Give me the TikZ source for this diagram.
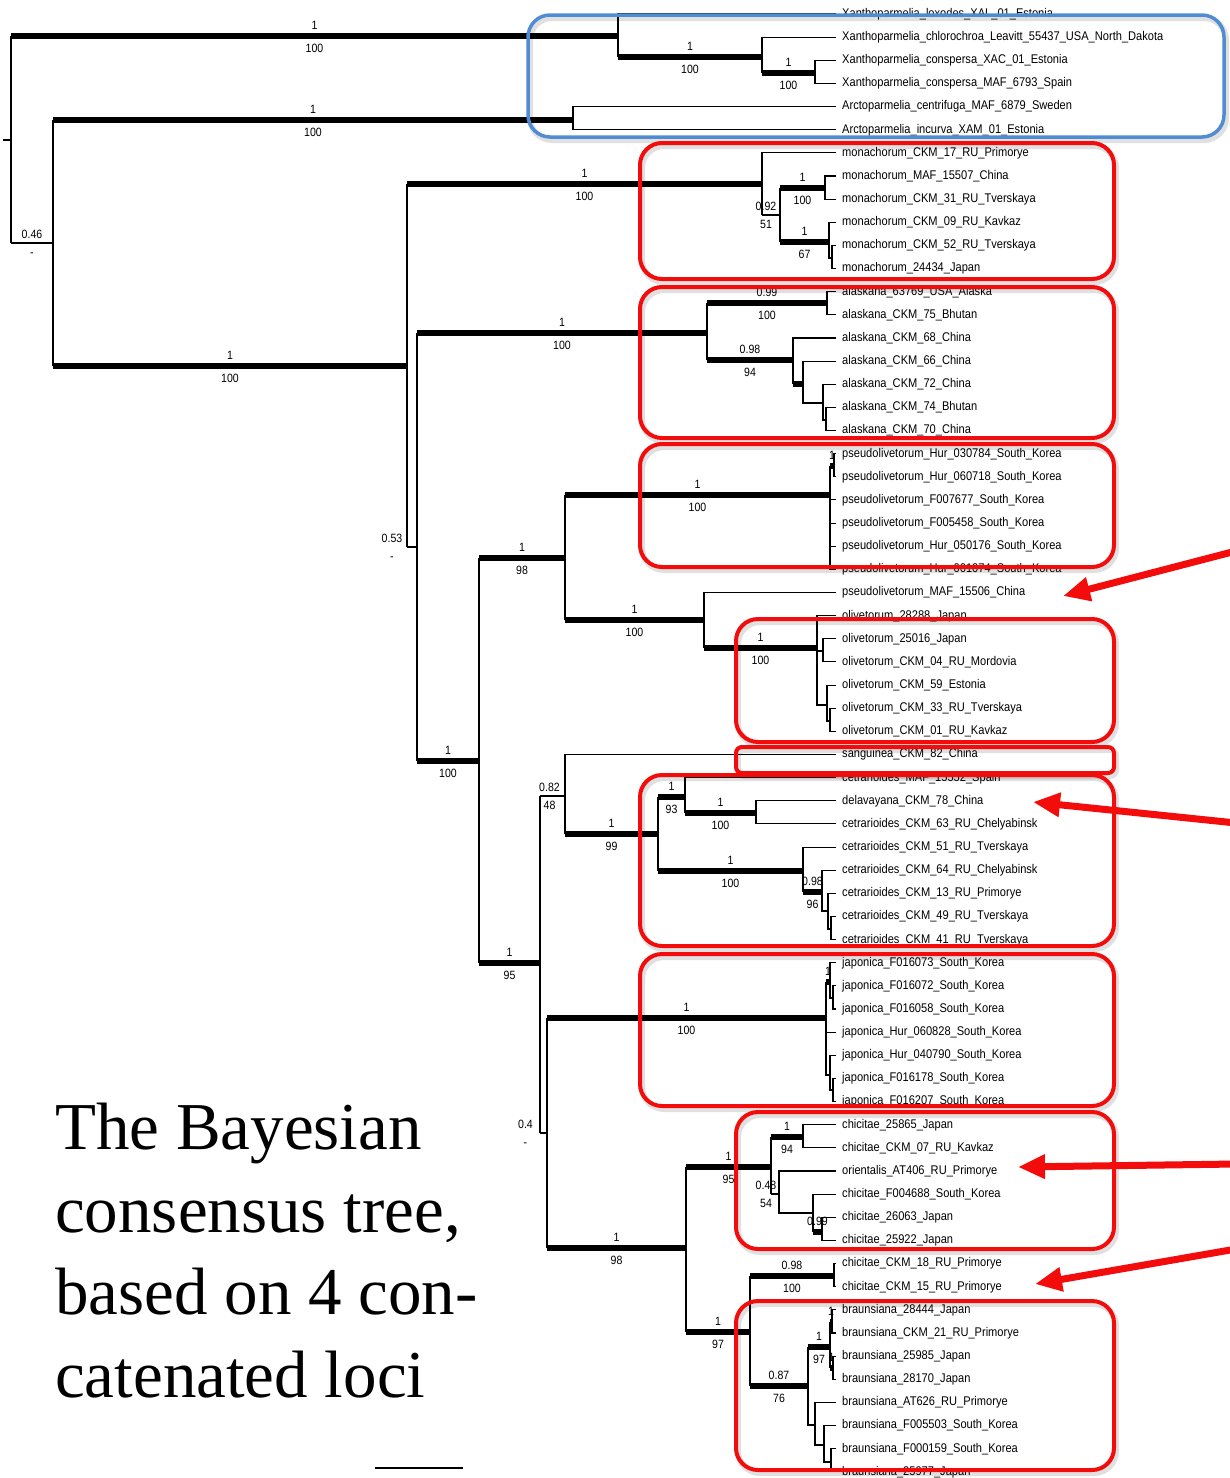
\documentclass[tikz,border=0pt]{standalone}
\usepackage{fontspec}
\setmainfont{Liberation Sans}
\newfontfamily\tipfont[FakeStretch=0.88]{Liberation Sans}
\newfontfamily\titlefont{Liberation Serif}
\usetikzlibrary{arrows.meta}

\definecolor{boxred}{RGB}{242,12,12}
\definecolor{boxblue}{RGB}{80,140,210}

% branch from the vertical line of #3 to node #4, with support values
\newcommand{\treebranch}[6][]{%
  \draw[br] (#3) -- (#3 |- #4);
  \draw[#2] (#3 |- #4) -- node[pp,#1]{#5} node[bs,#1]{#6} (#4);}
\newcommand{\leafbranch}[2]{\draw[br] (#1) |- (#2.west);}
\newcommand{\cladebox}[6][22pt]{%
  \draw[boxshadow, rounded corners=#1, shift={(2,3)}] (#3,#4) rectangle (#5,#6);
  \draw[#2, rounded corners=#1] (#3,#4) rectangle (#5,#6);}

\begin{document}
\begin{tikzpicture}[x=1pt,y=-1pt,
    br/.style={line width=1.1pt},
    bbr/.style={line width=6pt},
    pp/.style={above=2.5pt, inner sep=1pt, text height=8pt, text depth=0pt,
      font=\tipfont\fontsize{12}{13}\selectfont},
    bs/.style={below=4pt, inner sep=1pt, text height=8pt, text depth=0pt,
      font=\tipfont\fontsize{12}{13}\selectfont},
    leaf/.style={anchor=west, inner xsep=6pt, inner ysep=0pt, text height=9pt,
      text depth=2.2pt, font=\tipfont\fontsize{12.6}{14}\selectfont},
    redbox/.style={draw=boxred, line width=4pt},
    bluebox/.style={draw=boxblue, line width=3.5pt},
    boxshadow/.style={draw=black, opacity=0.12, line width=6pt},
    hint/.style={draw=boxred, line width=7pt, -{Triangle[length=27pt,width=23pt]}},
    title/.style={anchor=north west, inner sep=0pt, align=left,
      font=\titlefont\fontsize{67}{82.5}\selectfont}]
  \useasboundingbox (0,0) rectangle (1230,1478);

  % tips
  \foreach \nm [count=\i] in {
    Xanthoparmelia\_loxodes\_XAL\_01\_Estonia,
    Xanthoparmelia\_chlorochroa\_Leavitt\_55437\_USA\_North\_Dakota,
    Xanthoparmelia\_conspersa\_XAC\_01\_Estonia,
    Xanthoparmelia\_conspersa\_MAF\_6793\_Spain,
    Arctoparmelia\_centrifuga\_MAF\_6879\_Sweden,
    Arctoparmelia\_incurva\_XAM\_01\_Estonia,
    monachorum\_CKM\_17\_RU\_Primorye,
    monachorum\_MAF\_15507\_China,
    monachorum\_CKM\_31\_RU\_Tverskaya,
    monachorum\_CKM\_09\_RU\_Kavkaz,
    monachorum\_CKM\_52\_RU\_Tverskaya,
    monachorum\_24434\_Japan,
    alaskana\_63769\_USA\_Alaska,
    alaskana\_CKM\_75\_Bhutan,
    alaskana\_CKM\_68\_China,
    alaskana\_CKM\_66\_China,
    alaskana\_CKM\_72\_China,
    alaskana\_CKM\_74\_Bhutan,
    alaskana\_CKM\_70\_China,
    pseudolivetorum\_Hur\_030784\_South\_Korea,
    pseudolivetorum\_Hur\_060718\_South\_Korea,
    pseudolivetorum\_F007677\_South\_Korea,
    pseudolivetorum\_F005458\_South\_Korea,
    pseudolivetorum\_Hur\_050176\_South\_Korea,
    pseudolivetorum\_Hur\_061074\_South\_Korea,
    pseudolivetorum\_MAF\_15506\_China,
    olivetorum\_28288\_Japan,
    olivetorum\_25016\_Japan,
    olivetorum\_CKM\_04\_RU\_Mordovia,
    olivetorum\_CKM\_59\_Estonia,
    olivetorum\_CKM\_33\_RU\_Tverskaya,
    olivetorum\_CKM\_01\_RU\_Kavkaz,
    sanguinea\_CKM\_82\_China,
    cetrarioides\_MAF\_15552\_Spain,
    delavayana\_CKM\_78\_China,
    cetrarioides\_CKM\_63\_RU\_Chelyabinsk,
    cetrarioides\_CKM\_51\_RU\_Tverskaya,
    cetrarioides\_CKM\_64\_RU\_Chelyabinsk,
    cetrarioides\_CKM\_13\_RU\_Primorye,
    cetrarioides\_CKM\_49\_RU\_Tverskaya,
    cetrarioides\_CKM\_41\_RU\_Tverskaya,
    japonica\_F016073\_South\_Korea,
    japonica\_F016072\_South\_Korea,
    japonica\_F016058\_South\_Korea,
    japonica\_Hur\_060828\_South\_Korea,
    japonica\_Hur\_040790\_South\_Korea,
    japonica\_F016178\_South\_Korea,
    japonica\_F016207\_South\_Korea,
    chicitae\_25865\_Japan,
    chicitae\_CKM\_07\_RU\_Kavkaz,
    orientalis\_AT406\_RU\_Primorye,
    chicitae\_F004688\_South\_Korea,
    chicitae\_26063\_Japan,
    chicitae\_25922\_Japan,
    chicitae\_CKM\_18\_RU\_Primorye,
    chicitae\_CKM\_15\_RU\_Primorye,
    braunsiana\_28444\_Japan,
    braunsiana\_CKM\_21\_RU\_Primorye,
    braunsiana\_25985\_Japan,
    braunsiana\_28170\_Japan,
    braunsiana\_AT626\_RU\_Primorye,
    braunsiana\_F005503\_South\_Korea,
    braunsiana\_F000159\_South\_Korea,
    braunsiana\_25977\_Japan}
    \node[leaf] (l\i) at (836,{14+23.14*(\i-1)}) {\nm};

  % inner nodes
  \coordinate (stem) at (3,140);
  \coordinate (root) at (11,140);
  \coordinate (nX) at (618,36);
  \coordinate (nX2) at (762,57);
  \coordinate (nX3) at (815,73);
  \coordinate (nB) at (53,243);
  \coordinate (nA) at (573,120);
  \coordinate (nC) at (407,366);
  \coordinate (nMo) at (762,184);
  \coordinate (nMo2) at (780,215);
  \coordinate (nMo3) at (825,188);
  \coordinate (nMo4) at (829,242);
  \coordinate (nMo5) at (832,258);
  \coordinate (nD) at (417,547);
  \coordinate (nAl) at (707,333);
  \coordinate (nAl2) at (827,303);
  \coordinate (nAl3) at (793,360);
  \coordinate (nAl4) at (803,384);
  \coordinate (nAl5) at (823,403);
  \coordinate (nAl6) at (826,420);
  \coordinate (nE) at (479,761);
  \coordinate (nF) at (565,558);
  \coordinate (nPs) at (830,495);
  \coordinate (nPs2) at (834,466);
  \coordinate (nH) at (704,620);
  \coordinate (nOl) at (817,648);
  \coordinate (nOl2) at (823,651);
  \coordinate (nOl3) at (827,705);
  \coordinate (nOl4) at (830,721);
  \coordinate (nG) at (540,963);
  \coordinate (nJ) at (565,796);
  \coordinate (nM) at (658,834);
  \coordinate (nN) at (685,797);
  \coordinate (nP) at (756,813);
  \coordinate (nO) at (803,871);
  \coordinate (nQ) at (822,892);
  \coordinate (nR) at (828,911);
  \coordinate (nS) at (831,929);
  \coordinate (nL) at (547,1133);
  \coordinate (nJa) at (826,1018);
  \coordinate (nJa2) at (830,982);
  \coordinate (nJa3) at (833,998);
  \coordinate (nJa4) at (830,1075);
  \coordinate (nJa5) at (833,1090);
  \coordinate (nT) at (686,1248);
  \coordinate (nY) at (771,1167);
  \coordinate (nCh) at (803,1137);
  \coordinate (nCh2) at (779,1194);
  \coordinate (nCh3) at (813,1213);
  \coordinate (nCh4) at (822,1232);
  \coordinate (nAD) at (750,1332);
  \coordinate (nCh5) at (834,1276);
  \coordinate (nBr) at (808,1386);
  \coordinate (nBr2) at (830,1347);
  \coordinate (nBr3) at (832,1322);
  \coordinate (nBr4) at (833,1368);
  \coordinate (nBr5) at (815,1425);
  \coordinate (nBr6) at (824,1445);
  \coordinate (nBr7) at (831,1462);

  % outgroups
  \draw[br] (stem) -- (root);
  \treebranch{bbr}{root}{nX}{1}{100}
  \treebranch{br}{root}{nB}{0.46}{-}
  \leafbranch{nX}{l1}
  \treebranch{bbr}{nX}{nX2}{1}{100}
  \leafbranch{nX2}{l2}
  \treebranch{bbr}{nX2}{nX3}{1}{100}
  \leafbranch{nX3}{l3}
  \leafbranch{nX3}{l4}
  \treebranch{bbr}{nB}{nA}{1}{100}
  \leafbranch{nA}{l5}
  \leafbranch{nA}{l6}
  \treebranch{bbr}{nB}{nC}{1}{100}

  % monachorum
  \treebranch{bbr}{nC}{nMo}{1}{100}
  \leafbranch{nMo}{l7}
  \treebranch[xshift=-5pt]{br}{nMo}{nMo2}{0.92}{51}
  \treebranch{bbr}{nMo2}{nMo3}{1}{100}
  \leafbranch{nMo3}{l8}
  \leafbranch{nMo3}{l9}
  \treebranch{bbr}{nMo2}{nMo4}{1}{67}
  \leafbranch{nMo4}{l10}
  \draw[br] (nMo4) |- (nMo5);
  \leafbranch{nMo5}{l11}
  \leafbranch{nMo5}{l12}

  % alaskana
  \treebranch[xshift=-20pt]{br}{nC}{nD}{0.53}{-}
  \treebranch{bbr}{nD}{nAl}{1}{100}
  \treebranch{bbr}{nAl}{nAl2}{0.99}{100}
  \leafbranch{nAl2}{l13}
  \leafbranch{nAl2}{l14}
  \treebranch{bbr}{nAl}{nAl3}{0.98}{94}
  \leafbranch{nAl3}{l15}
  \treebranch{bbr}{nAl3}{nAl4}{}{}
  \leafbranch{nAl4}{l16}
  \draw[br] (nAl4) |- (nAl5);
  \leafbranch{nAl5}{l17}
  \draw[br] (nAl5) |- (nAl6);
  \leafbranch{nAl6}{l18}
  \leafbranch{nAl6}{l19}

  % pseudolivetorum, olivetorum
  \treebranch{bbr}{nD}{nE}{1}{100}
  \treebranch{bbr}{nE}{nF}{1}{98}
  \treebranch{bbr}{nF}{nPs}{1}{100}
  \treebranch{bbr}{nPs}{nPs2}{1}{}
  \leafbranch{nPs2}{l20}
  \leafbranch{nPs2}{l21}
  \foreach \k in {22,...,25} {\leafbranch{nPs}{l\k}}
  \treebranch{bbr}{nF}{nH}{1}{100}
  \leafbranch{nH}{l26}
  \treebranch{bbr}{nH}{nOl}{1}{100}
  \leafbranch{nOl}{l27}
  \draw[br] (nOl) |- (nOl2);
  \leafbranch{nOl2}{l28}
  \leafbranch{nOl2}{l29}
  \draw[br] (nOl) |- (nOl3);
  \leafbranch{nOl3}{l30}
  \draw[br] (nOl3) |- (nOl4);
  \leafbranch{nOl4}{l31}
  \leafbranch{nOl4}{l32}

  % sanguinea, cetrarioides
  \treebranch{bbr}{nE}{nG}{1}{95}
  \treebranch[xshift=-3pt]{br}{nG}{nJ}{0.82}{48}
  \leafbranch{nJ}{l33}
  \treebranch{bbr}{nJ}{nM}{1}{99}
  \treebranch{bbr}{nM}{nN}{1}{93}
  \leafbranch{nN}{l34}
  \treebranch{bbr}{nN}{nP}{1}{100}
  \leafbranch{nP}{l35}
  \leafbranch{nP}{l36}
  \treebranch{bbr}{nM}{nO}{1}{100}
  \leafbranch{nO}{l37}
  \treebranch{bbr}{nO}{nQ}{0.98}{96}
  \leafbranch{nQ}{l38}
  \draw[br] (nQ) |- (nR);
  \leafbranch{nR}{l39}
  \draw[br] (nR) |- (nS);
  \leafbranch{nS}{l40}
  \leafbranch{nS}{l41}

  % japonica
  \treebranch[xshift=-18pt]{br}{nG}{nL}{0.4}{-}
  \treebranch{bbr}{nL}{nJa}{1}{100}
  \treebranch{bbr}{nJa}{nJa2}{1}{}
  \leafbranch{nJa2}{l42}
  \draw[br] (nJa2) |- (nJa3);
  \leafbranch{nJa3}{l43}
  \leafbranch{nJa3}{l44}
  \leafbranch{nJa}{l45}
  \draw[br] (nJa) |- (nJa4);
  \leafbranch{nJa4}{l46}
  \draw[br] (nJa4) |- (nJa5);
  \leafbranch{nJa5}{l47}
  \leafbranch{nJa5}{l48}

  % chicitae, braunsiana
  \treebranch{bbr}{nL}{nT}{1}{98}
  \treebranch{bbr}{nT}{nY}{1}{95}
  \treebranch{bbr}{nY}{nCh}{1}{94}
  \leafbranch{nCh}{l49}
  \leafbranch{nCh}{l50}
  \treebranch[xshift=-9pt]{br}{nY}{nCh2}{0.48}{54}
  \leafbranch{nCh2}{l51}
  \draw[br] (nCh2) |- (nCh3);
  \leafbranch{nCh3}{l52}
  \treebranch{bbr}{nCh3}{nCh4}{0.99}{}
  \leafbranch{nCh4}{l53}
  \leafbranch{nCh4}{l54}
  \treebranch{bbr}{nT}{nAD}{1}{97}
  \treebranch{bbr}{nAD}{nCh5}{0.98}{100}
  \leafbranch{nCh5}{l55}
  \leafbranch{nCh5}{l56}
  \treebranch{bbr}{nAD}{nBr}{0.87}{76}
  \treebranch{bbr}{nBr}{nBr2}{1}{97}
  \treebranch{bbr}{nBr2}{nBr3}{1}{}
  \leafbranch{nBr3}{l57}
  \leafbranch{nBr3}{l58}
  \treebranch{bbr}{nBr2}{nBr4}{1}{}
  \leafbranch{nBr4}{l59}
  \leafbranch{nBr4}{l60}
  \draw[br] (nBr) |- (nBr5);
  \leafbranch{nBr5}{l61}
  \draw[br] (nBr5) |- (nBr6);
  \leafbranch{nBr6}{l62}
  \draw[br] (nBr6) |- (nBr7);
  \leafbranch{nBr7}{l63}
  \leafbranch{nBr7}{l64}

  % clade boxes
  \cladebox{bluebox}{528}{15}{1224}{137}
  \cladebox{redbox}{640}{143}{1114}{279}
  \cladebox{redbox}{640}{287}{1114}{438}
  \cladebox{redbox}{640}{444}{1114}{567}
  \cladebox{redbox}{736}{619}{1114}{742}
  \cladebox[6pt]{redbox}{736}{747}{1114}{773}
  \cladebox{redbox}{640}{775}{1114}{946}
  \cladebox{redbox}{640}{954}{1114}{1106}
  \cladebox{redbox}{736}{1112}{1114}{1249}
  \cladebox{redbox}{736}{1301}{1114}{1470}

  % arrows
  \coordinate (a1) at (1236,551);
  \coordinate (t1) at (1063,596);
  \coordinate (a2) at (1236,823);
  \coordinate (t2) at (1033,802);
  \coordinate (a3) at (1236,1164);
  \coordinate (t3) at (1018,1167);
  \coordinate (a4) at (1236,1249);
  \coordinate (t4) at (1035,1284);
  \draw[hint] (a1) -- (t1);
  \draw[hint] (a2) -- (t2);
  \draw[hint] (a3) -- (t3);
  \draw[hint] (a4) -- (t4);

  \node[title] (caption) at (55,1103) {The Bayesian\\consensus tree,\\based on 4 con-\\catenated loci};
  % scale bar
  \draw[line width=1.3pt] (375,1468) -- (463,1468);
\end{tikzpicture}
\end{document}
